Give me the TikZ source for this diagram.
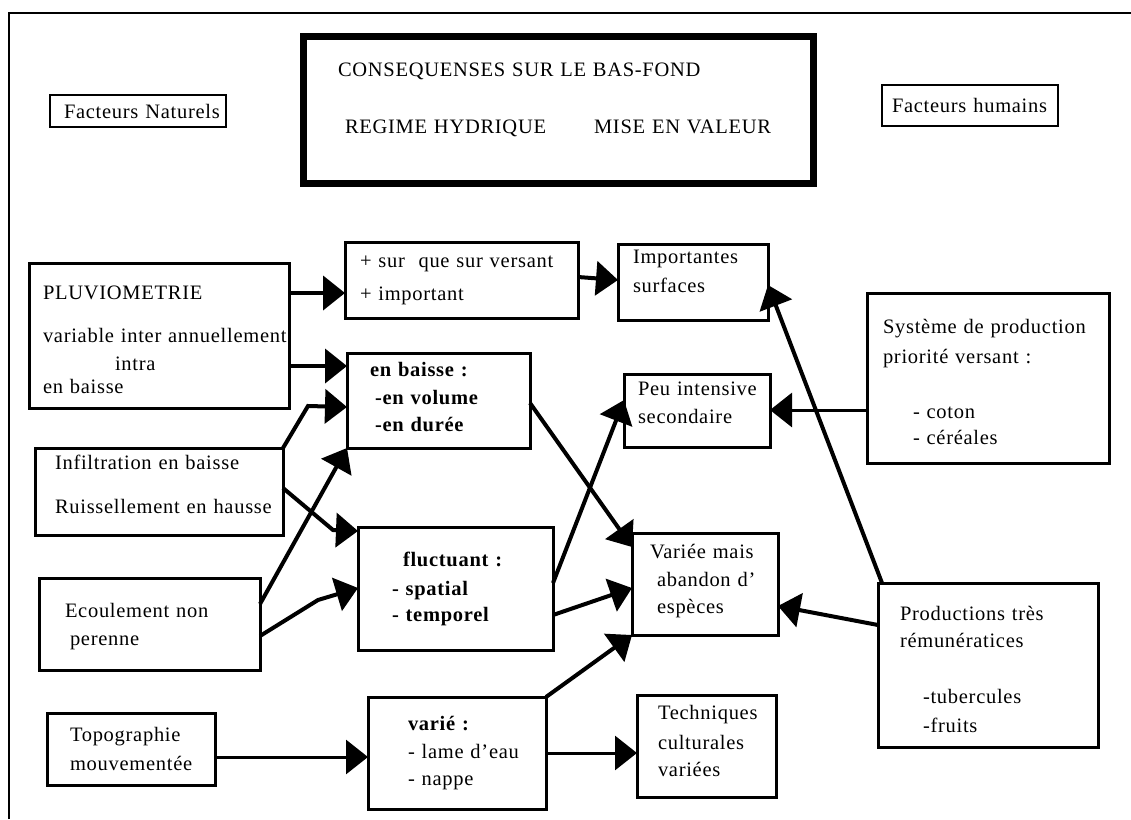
\documentclass[tikz,border=0pt]{standalone}
\usepackage{fontspec}
\setmainfont{Liberation Serif}[LetterSpace=3.5]
\usetikzlibrary{arrows.meta}
\newcommand\texte{\fontsize{20.5}{28}\selectfont}
\newcommand\haut[1]{\rule{0pt}{#1}}
\newcommand\bas[1]{\rule[-#1]{0pt}{#1}}
\tikzset{
  boite/.style={draw, line width=3pt, anchor=north west, align=left,
    inner sep=0pt, outer sep=0pt, font=\texte},
  marge/.style={execute at begin node={\leftskip=#1\rightskip=-40pt plus 1fil\relax},
    execute at end node={\par}},
  fleche/.style={line width=4pt, -{Triangle[length=22pt,width=34pt]}},
  fleche fine/.style={fleche, line width=3pt},
}
\begin{document}
\begin{tikzpicture}[x=1pt,y=-1pt]
  \useasboundingbox (0,0) rectangle (1131,819);
  \draw[line width=2pt] (9,819) -- (9,13) -- (1131,13);
  \draw
    (50,95) node[boite, line width=2pt, marge=14pt, text width=176pt, minimum height=32pt] (natu)
      {Facteurs Naturels}
    (303,36) node[boite, line width=7pt, marge=35pt, text width=510pt, minimum height=147pt] (titre)
      {CONSEQUENSES SUR LE BAS-FOND\\[29pt]
       \hspace*{7pt}REGIME HYDRIQUE\hspace{48pt}MISE EN VALEUR\bas{22pt}}
    (882,85) node[boite, line width=2pt, marge=10pt, text width=176pt, minimum height=41pt] (huma)
      {Facteurs humains}
    (29,263) node[boite, marge=14pt, text width=260pt, minimum height=145pt] (pluvio)
      {\haut{23pt}PLUVIOMETRIE\\[15pt] variable inter annuellement\\
       \hspace*{72pt}intra\\[-5pt] en baisse}
    (345,242) node[boite, marge=15pt, text width=233pt, minimum height=76pt] (plus)
      {+ sur\ \ que sur versant\\[5pt] + important}
    (618,244) node[boite, marge=15pt, text width=150pt, minimum height=76pt] (impo)
      {Importantes\\[1pt] surfaces\bas{21pt}}
    (347,353) node[boite, font=\texte\bfseries, marge=23pt, text width=183pt, minimum height=95pt] (baisse)
      {en baisse :\\ \hspace*{5pt}-en volume\\[-1pt] \hspace*{5pt}-en durée\bas{8pt}}
    (624,374) node[boite, marge=14pt, text width=146pt, minimum height=73pt] (peu)
      {Peu intensive\\ secondaire\bas{15pt}}
    (867,293) node[boite, marge=16pt, text width=242pt, minimum height=170pt] (syst)
      {\haut{23pt}Système de production\\[2pt] priorité versant :\\[27pt]
       \hspace*{30pt}- coton\\[-2pt] \hspace*{30pt}- céréales}
    (35,448) node[boite, marge=20pt, text width=248pt, minimum height=87pt] (infil)
      {Infiltration en baisse\\[16pt] Ruissellement en hausse\bas{15pt}}
    (358,527) node[boite, font=\texte\bfseries, marge=34pt, text width=195pt, minimum height=123pt] (fluct)
      {\hspace*{11pt}fluctuant :\\[1pt] - spatial\\[-2pt] - temporel}
    (632,533) node[boite, marge=18pt, text width=146pt, minimum height=102pt] (variee)
      {Variée mais\\ \hspace*{7pt}abandon d'\\[-1pt] \hspace*{7pt}espèces\bas{11pt}}
    (39,578) node[boite, marge=26pt, text width=221pt, minimum height=92pt] (ecoul)
      {\haut{20pt}Ecoulement non\\ \hspace*{5pt}perenne}
    (878,583) node[boite, marge=22pt, text width=220pt, minimum height=164pt] (prod)
      {\haut{24pt}Productions très\\[-1pt] rémunératices\\[28pt]
       \hspace*{23pt}-tubercules\\[1pt] \hspace*{23pt}-fruits}
    (47,713) node[boite, marge=23pt, text width=168pt, minimum height=72pt] (topo)
      {Topographie\\[1pt] mouvementée}
    (368,697) node[boite, marge=40pt, text width=178pt, minimum height=112pt] (varie)
      {\textbf{varié :}\\ - lame d'eau\\[-1pt] - nappe}
    (637,695) node[boite, marge=21pt, text width=139pt, minimum height=102pt] (tech)
      {Techniques\\[2pt] culturales\\[-1pt] variées\bas{11pt}};
  \begin{scope}[fleche]
    \draw ([yshift=-30pt]pluvio.north east) to ([yshift=-51pt]plus.north west);
    \draw ([yshift=-103pt]pluvio.north east) to ([yshift=-13pt]baisse.north west);
    \draw (infil.north east) -- ++(25,-42) -- ([yshift=-54pt]baisse.north west);
    \draw ([yshift=-26pt]ecoul.north east) to (baisse.south west);
    \draw ([yshift=-40pt]infil.north east) -- ++(50,42) -- ([yshift=-4pt]fluct.north west);
    \draw ([yshift=-58pt]ecoul.north east) -- ++(58,-36) -- ([yshift=-61pt]fluct.north west);
    \draw[fleche fine] ([yshift=-44pt]topo.north east) to ([yshift=-60pt]varie.north west);
    \draw ([yshift=-35pt]plus.north east) to ([yshift=-36pt]impo.north west);
    \draw ([yshift=-50pt]baisse.north east) to ([yshift=-14pt]variee.north west);
    \draw ([yshift=-56pt]fluct.north east) to ([yshift=-26pt]peu.north west);
    \draw ([yshift=-88pt]fluct.north east) to ([yshift=-55pt]variee.north west);
    \draw (varie.north east) to (variee.south west);
    \draw[fleche fine] ([yshift=-56pt]varie.north east) to ([yshift=-58pt]tech.north west);
    \draw[fleche fine] ([yshift=-117pt]syst.north west) to ([yshift=-36pt]peu.north east);
    \draw ([xshift=4pt]prod.north west) to ([yshift=-41pt]impo.north east);
    \draw ([yshift=-42pt]prod.north west) to ([yshift=-73pt]variee.north east);
  \end{scope}
\end{tikzpicture}
\end{document}
